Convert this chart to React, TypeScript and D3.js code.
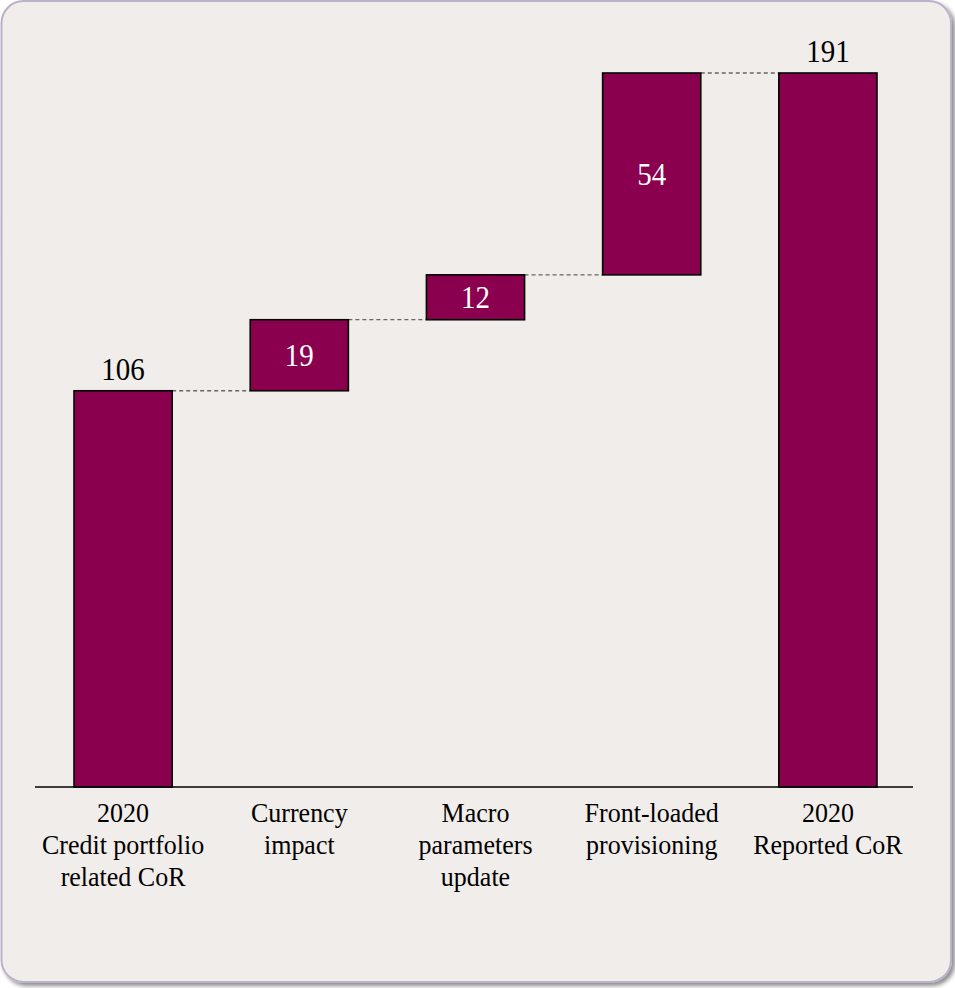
import React from "react";
import * as d3 from "d3";

const categories: string[][] = [
  ["2020", "Credit portfolio", "related CoR"],
  ["Currency", "impact"],
  ["Macro", "parameters", "update"],
  ["Front-loaded", "provisioning"],
  ["2020", "Reported CoR"],
];
const deltas: number[] = [106, 19, 12, 54, 191];
const isTotal: boolean[] = [true, false, false, false, true];

const W = 955;
const H = 988;
const FONT = "'Liberation Serif', 'Times New Roman', serif";
const BAR = "#8a004f";

export default function App() {
  const bars: { start: number; end: number; v: number; total: boolean; i: number }[] = [];
  let cum = 0;
  deltas.forEach((v, i) => {
    if (isTotal[i]) {
      bars.push({ start: 0, end: v, v, total: true, i });
      cum = v;
    } else {
      bars.push({ start: cum, end: cum + v, v, total: false, i });
      cum += v;
    }
  });

  const x = d3
    .scaleBand<number>()
    .domain(deltas.map((_, i) => i))
    .range([35, 916])
    .paddingInner(0.443)
    .paddingOuter(0.2215);
  const y = d3.scaleLinear().domain([0, 191]).range([787, 73]);
  const bw = x.bandwidth();
  const cx = (i: number) => (x(i) as number) + bw / 2;

  return (
    <div style={{ position: "absolute", left: 0, top: 0 }}>
      <svg width={W} height={H} style={{ display: "block" }}>
        <defs>
          <filter id="sh" x="-5%" y="-5%" width="110%" height="110%">
            <feGaussianBlur in="SourceAlpha" stdDeviation="2" />
            <feOffset dx="3" dy="3" result="o" />
            <feComponentTransfer>
              <feFuncA type="linear" slope="0.45" />
            </feComponentTransfer>
            <feMerge>
              <feMergeNode />
              <feMergeNode in="SourceGraphic" />
            </feMerge>
          </filter>
        </defs>
        <rect
          x={1.5}
          y={1}
          width={949.5}
          height={981}
          rx={22}
          ry={22}
          fill="#f0edea"
          stroke="#bcb0cc"
          strokeWidth={2}
          filter="url(#sh)"
        />
        {bars.slice(0, -1).map((b, i) => {
          const x1 = (x(i) as number) + bw;
          const x2 = x(i + 1) as number;
          return (
            <line
              key={"c" + i}
              x1={x1}
              x2={x2}
              y1={y(b.end)}
              y2={y(b.end)}
              stroke="#666"
              strokeWidth={1.3}
              strokeDasharray="4,3"
            />
          );
        })}
        {bars.map((b) => (
          <rect
            key={"b" + b.i}
            x={x(b.i)}
            y={y(b.end)}
            width={bw}
            height={y(b.start) - y(b.end)}
            fill={BAR}
            stroke="#000"
            strokeWidth={1.6}
          />
        ))}
        {bars.map((b) =>
          b.total ? (
            <text
              key={"t" + b.i}
              transform={`translate(${cx(b.i)},${y(b.end) - 11}) scale(1,1.1)`}
              textAnchor="middle"
              fontFamily={FONT}
              fontSize={29}
              fill="#000"
            >
              {b.v}
            </text>
          ) : (
            <text
              key={"t" + b.i}
              transform={`translate(${cx(b.i)},${(y(b.start) + y(b.end)) / 2 + 11}) scale(1,1.1)`}
              textAnchor="middle"
              fontFamily={FONT}
              fontSize={29}
              fill="#fff"
            >
              {b.v}
            </text>
          )
        )}
        <line x1={35} x2={913} y1={787} y2={787} stroke="#000" strokeWidth={1.5} />
        {categories.map((lines, i) =>
          lines.map((ln, j) => (
            <text
              key={"l" + i + "-" + j}
              transform={`translate(${cx(i)},${822 + j * 32}) scale(1,1.08)`}
              textAnchor="middle"
              fontFamily={FONT}
              fontSize={26}
              fill="#000"
            >
              {ln}
            </text>
          ))
        )}
      </svg>
    </div>
  );
}
